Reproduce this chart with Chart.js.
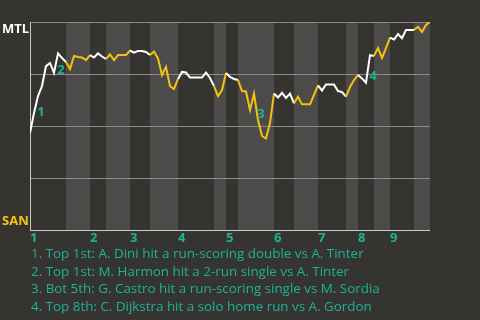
<!DOCTYPE html>
<html><head><meta charset="utf-8">
<script src="https://cdn.jsdelivr.net/npm/chart.js@4"></script>
<style>
html,body{margin:0;padding:0;background:#363430;width:480px;height:320px;overflow:hidden;}
#wrap{position:relative;width:480px;height:320px;}
canvas{position:absolute;left:0;top:0;}
#events{position:absolute;left:31px;top:245px;font:13.4px "Open Sans",sans-serif;color:#1db394;line-height:17.7px;white-space:nowrap;}
</style></head><body>
<div id="wrap"><canvas id="c" width="480" height="320"></canvas><div id="events"></div></div>
<script>
// Win probability for the top team (MTL), in percent, one value per play
const winProb = [
  46.6, 56.3, 64.4, 69.2, 78.8, 80.3, 75.6, 84.9, 82.7, 80.8,
  77.4, 83.7, 83.2, 82.9, 81.7, 84.1, 82.9, 84.9, 83.4, 82.2,
  84.4, 81.7, 84.1, 84.1, 84.1, 86.3, 85.3, 86.1, 86.1, 85.6,
  84.1, 85.8, 82.5, 74.5, 78.4, 69.2, 67.8, 72.6, 76.0, 75.7,
  73.3, 73.3, 73.3, 73.3, 75.7, 73.1, 69.2, 64.4, 67.3, 75.5,
  73.6, 72.6, 72.1, 66.8, 66.6, 57.7, 65.6, 52.9, 45.2, 44.0,
  51.4, 65.6, 63.7, 65.9, 63.5, 65.6, 60.9, 64.1, 60.4, 60.4,
  60.4, 64.9, 69.5, 67.1, 70.0, 70.0, 70.0, 66.8, 66.3, 64.1,
  68.8, 72.1, 74.5, 72.9, 70.8, 84.1, 83.7, 87.5, 82.7, 87.5,
  92.5, 91.6, 94.2, 92.2, 96.2, 96.2, 96.2, 97.7, 95.2, 98.6,
  100
];
// play index where each half inning starts (top 1st, bot 1st, top 2nd, ...), last = end of game
const halfInningStarts = [0, 9, 15, 19, 25, 30, 37, 46, 49, 52, 61, 66, 72, 79, 82, 86, 90, 96, 100];
const inningLabels = ['1', '2', '3', '4', '5', '6', '7', '8', '9'];
const topTeam = 'MTL';
const bottomTeam = 'SAN';
// play index right after each highlighted event
const eventPlays = [2, 7, 57, 85];
const eventLabels = ['1', '2', '3', '4'];
const eventTexts = [
  '1. Top 1st: A. Dini hit a run-scoring double vs A. Tinter',
  '2. Top 1st: M. Harmon hit a 2-run single vs A. Tinter',
  '3. Bot 5th: G. Castro hit a run-scoring single vs M. Sordia',
  '4. Top 8th: C. Dijkstra hit a solo home run vs A. Gordon'
];

const WHITE = '#ffffff', YELLOW = '#f2c40f', TEAL = '#1db394';
const BG = '#363430', BAND = '#4d4b49';
const FONT = '"Open Sans", sans-serif';

document.getElementById('events').innerHTML = eventTexts.map(t => '<div>' + t + '</div>').join('');

const inningStarts = halfInningStarts.filter((v, i) => i % 2 === 0 && i < halfInningStarts.length - 1);
function halfIndex(i) {
  let h = 0;
  for (let k = 0; k < halfInningStarts.length - 1; k++) if (i >= halfInningStarts[k]) h = k;
  return h;
}

const bandsPlugin = {
  id: 'bands',
  beforeDraw(chart) {
    const {ctx, chartArea: a, scales: {x}} = chart;
    ctx.save();
    ctx.fillStyle = BG;
    ctx.fillRect(0, 0, chart.width, chart.height);
    ctx.fillStyle = BAND;
    for (let k = 1; k < halfInningStarts.length - 1; k += 2) {
      const x0 = x.getPixelForValue(halfInningStarts[k]);
      const x1 = x.getPixelForValue(halfInningStarts[k + 1]);
      ctx.fillRect(x0, a.top, x1 - x0, a.bottom - a.top);
    }
    ctx.restore();
  }
};

const labelsPlugin = {
  id: 'labels',
  afterDatasetsDraw(chart) {
    const {ctx, scales: {y}} = chart;
    const meta = chart.getDatasetMeta(0);
    ctx.save();
    ctx.font = 'bold 13px ' + FONT;
    ctx.textAlign = 'center';
    ctx.textBaseline = 'middle';
    ctx.fillStyle = TEAL;
    eventPlays.forEach((p, i) => {
      const a = meta.data[p - 1], b = meta.data[p];
      ctx.fillText(eventLabels[i], (a.x + b.x) / 2 + 5, (a.y + b.y) / 2 + 7.5);
    });
    ctx.textAlign = 'left';
    ctx.fillStyle = WHITE;
    ctx.fillText(topTeam, 2, y.getPixelForValue(100) + 7);
    ctx.fillStyle = YELLOW;
    ctx.fillText(bottomTeam, 2, y.getPixelForValue(0) - 9);
    ctx.restore();
  }
};

new Chart(document.getElementById('c'), {
  type: 'line',
  data: {
    datasets: [{
      data: winProb.map((v, i) => ({x: i, y: v})),
      borderWidth: 2,
      pointRadius: 0,
      tension: 0,
      borderColor: WHITE,
      segment: {
        borderColor: c => (halfIndex(c.p0DataIndex) % 2 === 0 ? WHITE : YELLOW)
      }
    }]
  },
  options: {
    responsive: false,
    animation: false,
    devicePixelRatio: 1,
    layout: {padding: {left: 30, right: 50, top: 22, bottom: 74}},
    plugins: {legend: {display: false}, tooltip: {enabled: false}},
    scales: {
      x: {
        type: 'linear', min: 0, max: 100,
        grid: {display: false, drawTicks: false},
        border: {display: false},
        afterBuildTicks: s => { s.ticks = inningStarts.map(v => ({value: v})); },
        afterFit: s => { s.height = 16; },
        ticks: {
          callback: (v, i) => inningLabels[i],
          align: 'start', color: TEAL, font: {family: FONT, size: 13, weight: 'bold'},
          padding: 0, maxRotation: 0, autoSkip: false
        }
      },
      y: {
        min: 0, max: 100,
        afterFit: s => { s.width = 0; },
        ticks: {display: false, stepSize: 25},
        grid: {drawTicks: false, color: c => (c.tick && c.tick.value === 0 ? '#c8c8c8' : '#8a8a8a'), lineWidth: 1},
        border: {display: true, color: '#c8c8c8', width: 1}
      }
    }
  },
  plugins: [bandsPlugin, labelsPlugin]
});
</script>
</body></html>
